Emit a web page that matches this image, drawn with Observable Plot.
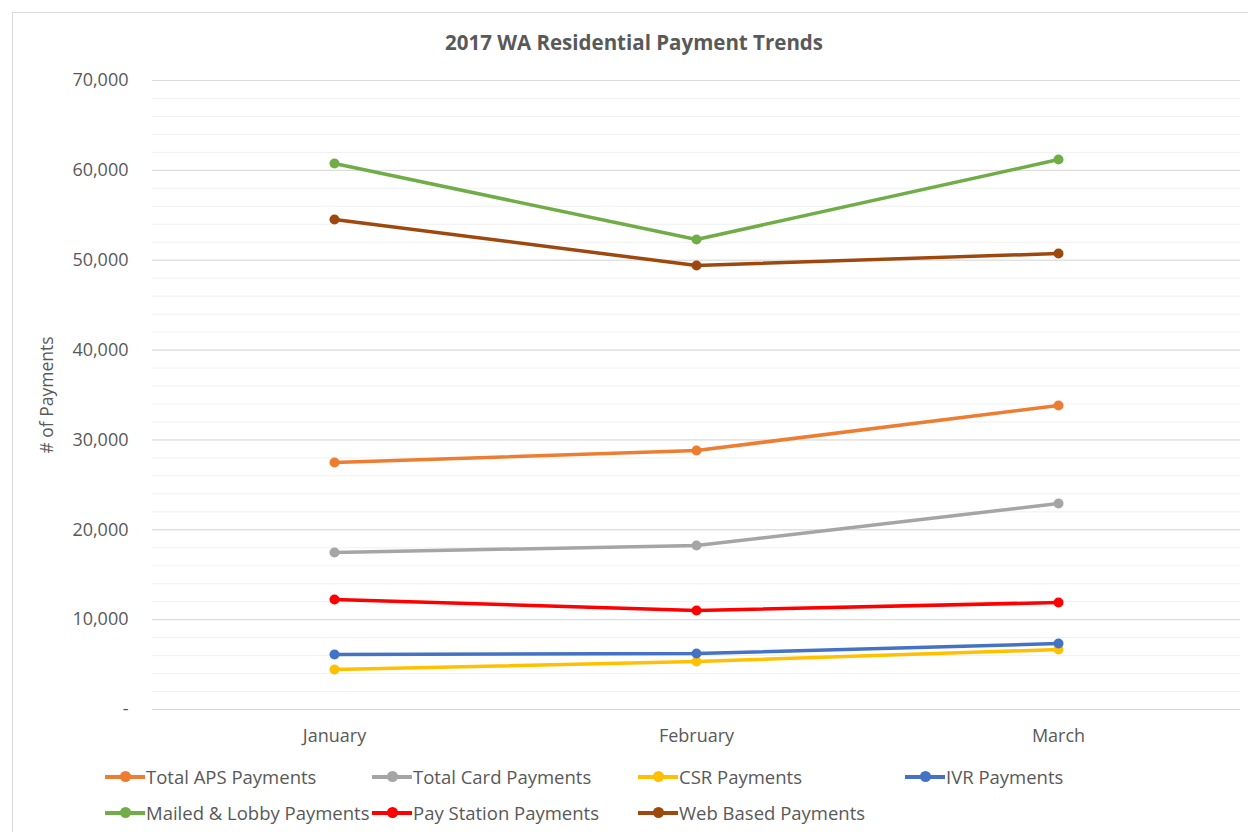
<!DOCTYPE html>
<html>
<head>
<meta charset="utf-8">
<script src="https://cdn.jsdelivr.net/npm/d3@7"></script>
<script src="https://cdn.jsdelivr.net/npm/@observablehq/plot@0.6"></script>
<style>
  body { margin: 0; background: #fff; font-family: "Open Sans", sans-serif; }
  #wrap { position: relative; width: 1248px; height: 832px; overflow: hidden; }
  #frame { position: absolute; left: 12px; top: 12px; width: 1240px; height: 830px; border: 1px solid #d9d9d9; box-sizing: border-box; }
  #title { position: absolute; left: 0; width: 1268px; top: 28px; text-align: center; font-size: 20.5px; font-weight: bold; color: #595959; }
  #chart { position: absolute; left: 0; top: 0; }
  .legend { position: absolute; font-size: 18.5px; color: #595959; }
  .item { position: absolute; white-space: nowrap; display: flex; align-items: center; }
  .sw { position: relative; width: 40px; height: 4px; margin-right: 1px; }
  .sw span { position: absolute; left: 14.5px; top: -3.5px; width: 11px; height: 11px; border-radius: 50%; }
</style>
</head>
<body>
<div id="wrap">
  <div id="frame"></div>
  <div id="chart"></div>
  <div id="title">2017 WA Residential Payment Trends</div>
  <div id="legend" class="legend"></div>
</div>
<script>
const months = ["January", "February", "March"];
const seriesNames = ["Total APS Payments", "Total Card Payments", "CSR Payments", "IVR Payments",
                     "Mailed & Lobby Payments", "Pay Station Payments", "Web Based Payments"];
const seriesColors = ["#ED7D31", "#A5A5A5", "#FFC000", "#4472C4", "#70AD47", "#FF0000", "#9E480E"];
const totalAPS = [27490, 28820, 33830];
const totalCard = [17470, 18250, 22920];
const csr = [4450, 5340, 6680];
const ivr = [6120, 6230, 7340];
const mailedLobby = [60760, 52300, 61200];
const payStation = [12240, 11020, 11910];
const webBased = [54530, 49410, 50750];
const majorTicks = [0, 10000, 20000, 30000, 40000, 50000, 60000, 70000];
const minorTicks = d3.range(0, 70001, 2000);

const allValues = [totalAPS, totalCard, csr, ivr, mailedLobby, payStation, webBased];
const data = [];
seriesNames.forEach((name, i) => {
  months.forEach((m, j) => data.push({series: name, month: m, value: allValues[i][j]}));
});

const fmt = d => d === 0 ? "-" : d3.format(",")(d);

const chart = Plot.plot({
  width: 1248,
  height: 760,
  marginTop: 80,
  marginBottom: 51,
  marginLeft: 152,
  marginRight: 8,
  style: {fontFamily: "Open Sans, sans-serif", fontSize: "18px", color: "#595959", background: "transparent"},
  x: {type: "point", domain: months, padding: 0.5, label: null},
  y: {domain: [0, 70000], label: null},
  color: {domain: seriesNames, range: seriesColors},
  marks: [
    Plot.ruleY(minorTicks, {stroke: "#f0f0f0", strokeWidth: 1}),
    Plot.ruleY(majorTicks, {stroke: "#d9d9d9", strokeWidth: 1}),
    Plot.axisY({ticks: majorTicks, tickSize: 0, tickPadding: 24, label: null,
                tickFormat: fmt, fill: "#595959", fontSize: 18}),
    Plot.axisX({tickSize: 0, tickPadding: 20, label: null, fill: "#595959", fontSize: 18}),
    Plot.text(["# of Payments"], {frameAnchor: "left", dx: -105, rotate: -90, textAnchor: "middle",
                                  fontSize: 17.5, fill: "#595959"}),
    Plot.line(data, {x: "month", y: "value", z: "series", stroke: "series", strokeWidth: 3.5}),
    Plot.dot(data, {x: "month", y: "value", fill: "series", r: 5})
  ]
});
document.getElementById("chart").appendChild(chart);

const legend = document.getElementById("legend");
const pos = [[105, 764], [372, 764], [638, 764], [905, 764], [105, 800], [372, 800], [638, 800]];
seriesNames.forEach((name, i) => {
  const it = document.createElement("div");
  it.className = "item";
  it.style.left = pos[i][0] + "px";
  it.style.top = pos[i][1] + "px";
  it.innerHTML = `<div class="sw" style="background:${seriesColors[i]}"><span style="background:${seriesColors[i]}"></span></div><div>${name.replace("&", "&amp;")}</div>`;
  legend.appendChild(it);
});
</script>
</body>
</html>
